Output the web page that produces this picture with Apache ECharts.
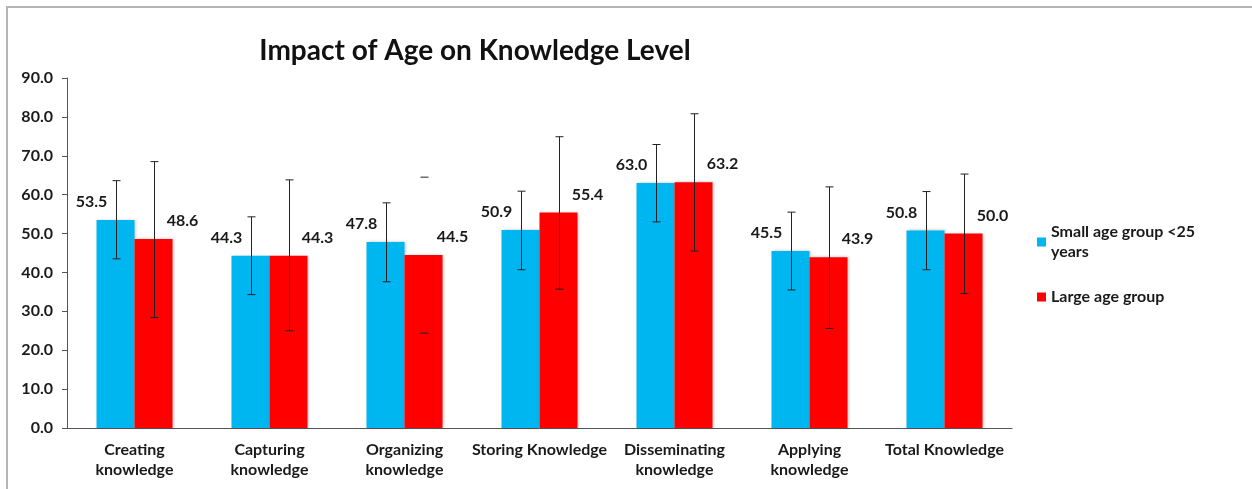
<!DOCTYPE html>
<html>
<head>
<meta charset="utf-8">
<script src="https://cdn.jsdelivr.net/npm/echarts@6/dist/echarts.min.js"></script>
<style>
html,body{margin:0;padding:0;background:#fff;}
#frame{position:absolute;left:0;top:0;width:1252px;height:489px;}
#border{position:absolute;left:6px;top:6px;width:1252px;height:489px;border-top:2px solid #b4b4b4;border-left:2px solid #b4b4b4;box-sizing:border-box;pointer-events:none;}
#chart{position:absolute;left:0;top:0;width:1252px;height:489px;}
</style>
</head>
<body>
<div id="frame"><div id="chart"></div><div id="border"></div></div>
<script>
const titleText = 'Impact of Age on Knowledge Level';
const categories = ['Creating\nknowledge','Capturing\nknowledge','Organizing\nknowledge','Storing Knowledge','Disseminating\nknowledge','Applying\nknowledge','Total Knowledge'];
const seriesNames = ['Small age group <25 years','Large age group'];
const smallValues = [53.5, 44.3, 47.8, 50.9, 63.0, 45.5, 50.8];
const largeValues = [48.6, 44.3, 44.5, 55.4, 63.2, 43.9, 50.0];
const smallErrLow = [43.5, 34.3, 37.6, 40.7, 53.0, 35.5, 40.7];
const smallErrHigh = [63.6, 54.3, 57.9, 60.9, 72.9, 55.5, 60.8];
const largeErrLow = [28.4, 25.0, 24.4, 35.7, 45.5, 25.6, 34.6];
const largeErrHigh = [68.5, 63.8, 64.5, 74.9, 80.8, 62.0, 65.3];
const largeStemShown = [true, true, false, true, true, true, true];
const yTicks = {min: 0, max: 90, interval: 10};

const BAR_W = 38;
const FONT = 'Lato, "Open Sans", sans-serif';
const chart = echarts.init(document.getElementById('chart'));

function errData(lo, hi, stem){
  return lo.map((v,i)=>[i, v, hi[i], stem ? (stem[i]?1:0) : 1]);
}
function errRender(sign){
  return function(params, api){
    const i = api.value(0);
    const lo = api.coord([i, api.value(1)]);
    const hi = api.coord([i, api.value(2)]);
    const x = Math.round(lo[0] + sign * BAR_W / 2) + 0.5;
    const cap = 4;
    const st = {stroke:'#222', lineWidth:1};
    const children = [
      {type:'line', shape:{x1:x-cap,y1:hi[1],x2:x+cap,y2:hi[1]}, style:st},
      {type:'line', shape:{x1:x-cap,y1:lo[1],x2:x+cap,y2:lo[1]}, style:st}
    ];
    if (api.value(3)) children.push({type:'line', shape:{x1:x,y1:hi[1],x2:x,y2:lo[1]}, style:st});
    return {type:'group', children};
  };
}
function barColor(base, light){
  return new echarts.graphic.LinearGradient(0,0,1,0,[
    {offset:0, color:base},{offset:0.08, color:light},{offset:0.5, color:base},{offset:0.92, color:base},{offset:1, color:base}
  ]);
}

const labelStyle = {show:true, position:'top', fontFamily:FONT, fontWeight:'bold', fontSize:16, color:'#1a1a1a', formatter:p=>p.value.toFixed(1)};

chart.setOption({
  animation:false,
  backgroundColor:'#fff',
  title:{text:titleText, left:470, top:32, textAlign:'center', textStyle:{fontFamily:FONT, fontWeight:'bold', fontSize:28, color:'#111'}},
  legend:{
    orient:'vertical', left:1032, top:207, itemWidth:9, itemHeight:9, itemGap:15, icon:'rect',
    textStyle:{fontFamily:FONT, fontWeight:'bold', fontSize:16, color:'#1a1a1a', lineHeight:20},
    formatter:n=> n==='Small age group <25 years' ? 'Small age group <25\nyears' : n,
    data:[
      {name:seriesNames[0], textStyle:{padding:[20,0,0,0]}},
      {name:seriesNames[1]}
    ]
  },
  grid:{left:67, right:240, top:78, bottom:61},
  xAxis:{
    type:'category', data:categories,
    axisLine:{lineStyle:{color:'#555', width:1}},
    axisTick:{show:false},
    axisLabel:{interval:0, fontFamily:FONT, fontWeight:'bold', fontSize:16, color:'#1a1a1a', lineHeight:20, margin:12}
  },
  yAxis:{
    type:'value', min:yTicks.min, max:yTicks.max, interval:yTicks.interval,
    splitLine:{show:false},
    axisLine:{show:true, lineStyle:{color:'#555'}},
    axisTick:{show:true, length:5, lineStyle:{color:'#555'}},
    axisLabel:{formatter:v=>v.toFixed(1), fontFamily:FONT, fontWeight:'bold', fontSize:16, color:'#1a1a1a', margin:14}
  },
  series:[
    {name:seriesNames[0], type:'bar', data:smallValues, barWidth:BAR_W, barGap:'0%',
     itemStyle:{color:'#00B6F0', shadowColor:'rgba(0,0,0,0.25)', shadowBlur:3, shadowOffsetX:1},
     label:Object.assign({}, labelStyle, {offset:[-24,-5]}), z:2},
    {name:seriesNames[1], type:'bar', data:largeValues, barWidth:BAR_W, barGap:'0%',
     itemStyle:{color:'#FF0000', shadowColor:'rgba(0,0,0,0.25)', shadowBlur:3, shadowOffsetX:1},
     label:Object.assign({}, labelStyle, {offset:[29,-5]}), z:2},
    {type:'custom', renderItem:errRender(-1), data:errData(smallErrLow, smallErrHigh, null), encode:{x:0,y:[1,2]}, z:5, silent:true},
    {type:'custom', renderItem:errRender(1), data:errData(largeErrLow, largeErrHigh, largeStemShown), encode:{x:0,y:[1,2]}, z:5, silent:true}
  ]
});
</script>
</body>
</html>
